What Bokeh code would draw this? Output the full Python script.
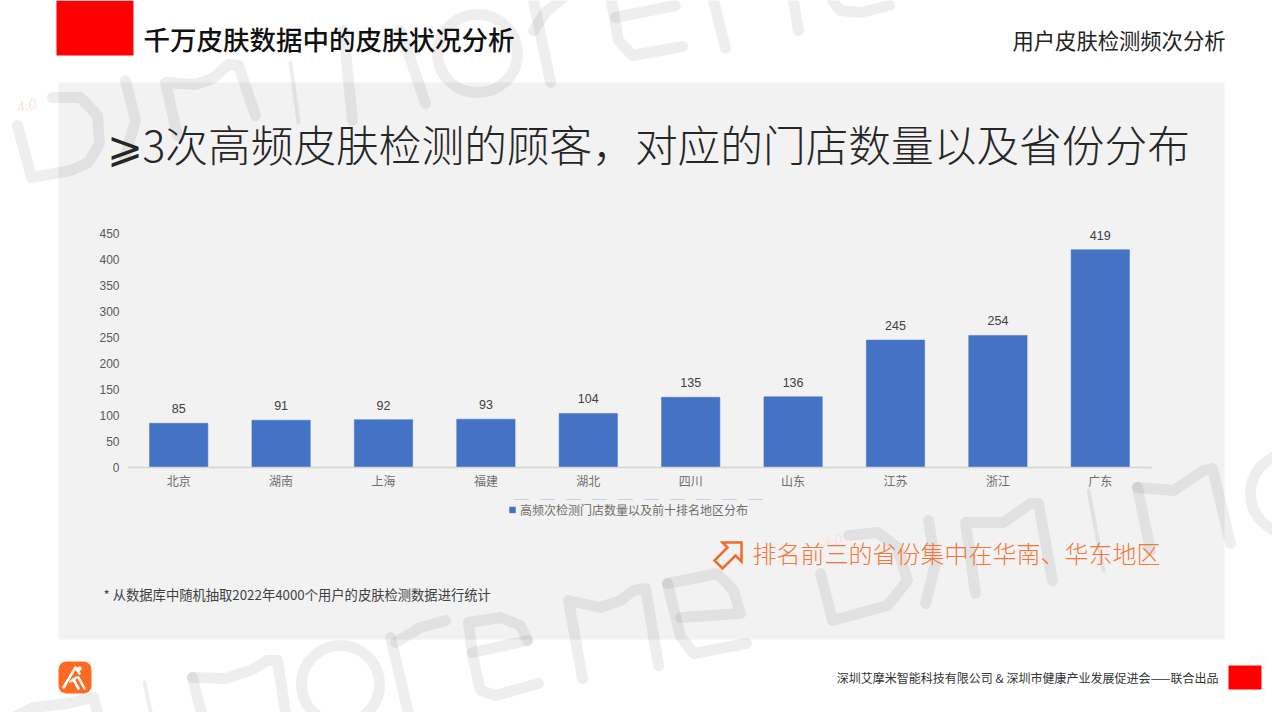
from bokeh.core.properties import value
from bokeh.embed import file_html
from bokeh.models import ColumnDataSource, FactorRange, FixedTicker, Legend, LegendItem, Range1d
from bokeh.plotting import figure
from bokeh.resources import INLINE

# chart data
regions = ["北京", "湖南", "上海", "福建", "湖北", "四川", "山东", "江苏", "浙江", "广东"]
store_counts = [85, 91, 92, 93, 104, 135, 136, 245, 254, 419]
y_ticks = [0, 50, 100, 150, 200, 250, 300, 350, 400, 450]
legend_text = "高频次检测门店数量以及前十排名地区分布"

# slide texts
heading = "千万皮肤数据中的皮肤状况分析"
section = "用户皮肤检测频次分析"
title = "⩾3次高频皮肤检测的顾客，对应的门店数量以及省份分布"
callout = "排名前三的省份集中在华南、华东地区"
footnote = "* 从数据库中随机抽取2022年4000个用户的皮肤检测数据进行统计"
footer = "深圳艾摩米智能科技有限公司 & 深圳市健康产业发展促进会——联合出品"

SANS = "Noto Sans CJK SC"
LIGHT = "Noto Sans CJK SC Light"

# watermark strokes, in slide pixels
wm_thick = [
    # top row
    [(17, 125), (31, 177), (70, 170), (88, 162), (99, 143), (97, 115), (80, 97), (52, 97)],
    [(125, 80), (135, 120), (124, 158)],
    [(177, 135), (165, 82), (195, 84), (212, 78), (228, 64), (238, 65), (255, 115)],
    [(343, 30), (352, 120)],
    [(400, 30), (425, 103)],
    [(550, 82), (533, 0)],
    [(533, 30), (545, 12), (565, -5)],
    [(610, -5), (618, 40), (632, 55), (682, 46)],
    [(615, 17), (675, 5)],
    [(713, 0), (725, 48)],
    [(793, 0), (798, 30)],
    [(832, 0), (840, 10), (860, 12), (889, 5)],
    # bottom row
    [(13, 717), (33, 707), (67, 703), (93, 697), (100, 725)],
    [(192, 677), (204, 725)],
    [(192, 677), (225, 678), (250, 670), (267, 660), (277, 660), (287, 725)],
    [(390, 637), (408, 713)],
    [(395, 642), (420, 627), (445, 620)],
    [(527, 640), (520, 625), (500, 617), (468, 622), (472, 655), (480, 690), (495, 695), (538, 683)],
    [(472, 652), (527, 640)],
    [(582, 678), (568, 600), (600, 607), (620, 600), (633, 590), (645, 588), (658, 665)],
    [(667, 583), (717, 573), (733, 590), (740, 613), (680, 617)],
    [(667, 583), (680, 636), (693, 653), (746, 643)],
    # right row
    [(820, 573), (832, 620), (887, 605), (907, 580), (897, 547), (877, 532), (848, 535)],
    [(928, 520), (935, 563), (925, 603)],
    [(975, 593), (965, 522), (1003, 522), (1030, 503), (1038, 503), (1052, 580)],
    [(1137, 487), (1150, 550)],
    [(1137, 487), (1173, 490), (1203, 470), (1212, 468), (1230, 543)],
]
wm_thin = [[(290, 62), (298, 122)], [(144, 682), (152, 720)], [(1088, 490), (1103, 570)]]
wm_rings = [(477, 53, 80, 78), (340, 684, 78, 78), (1290, 493, 80, 80)]
arrow_icon = [(722, 542), (741, 542), (741, 561), (735, 555), (722, 568), (714, 560), (727, 547)]
logo_strokes = [
    [(63, 687), (75, 667), (79, 673)],
    [(70, 681), (76, 677)],
    [(78, 677), (84, 688)],
    [(73, 679), (78, 688)],
]

# page background: slide furniture drawn in slide pixels
bg = figure(width=1272, height=712, x_range=Range1d(0, 1272), y_range=Range1d(712, 0),
            output_backend="svg", toolbar_location=None, min_border=0)
bg.axis.visible = False
bg.grid.visible = False
bg.outline_line_color = None
bg.background_fill_color = "white"
bg.border_fill_color = "white"

bg.quad(left=[58], right=[1224], top=[82], bottom=[639], fill_color="#f2f2f2", line_color=None)

wm_color = "black"
wm_alpha = 0.065
bg.multi_line([[pt[0] for pt in s] for s in wm_thick], [[pt[1] for pt in s] for s in wm_thick],
              line_color=wm_color, line_alpha=wm_alpha, line_width=11,
              line_cap="round", line_join="round")
bg.multi_line([[pt[0] for pt in s] for s in wm_thin], [[pt[1] for pt in s] for s in wm_thin],
              line_color=wm_color, line_alpha=wm_alpha, line_width=4, line_cap="round")
bg.ellipse(x=[r[0] for r in wm_rings], y=[r[1] for r in wm_rings],
           width=[r[2] for r in wm_rings], height=[r[3] for r in wm_rings],
           fill_color=None, line_color=wm_color, line_alpha=wm_alpha, line_width=11)
bg.text(x=[26, 832], y=[105, 540], text=["4.0", "4.0"], angle=0.23, text_color="#fbe3de",
        text_font=value("Liberation Sans"), text_font_size="14px", text_font_style="italic",
        text_align="center", text_baseline="middle")

# red blocks
bg.quad(left=[56, 1228], right=[133, 1261], top=[0, 665], bottom=[55, 689],
        fill_color="#ff0000", line_color=None)

bg.text(x=[143], y=[38], text=[heading], text_font=value("Noto Sans CJK SC Medium"), text_font_size="26.5px",
        text_color="#111111", text_baseline="middle")
bg.text(x=[1225], y=[39], text=[section], text_font=value(SANS), text_font_size="21.3px",
        text_color="#222222", text_align="right", text_baseline="middle")
bg.text(x=[106], y=[142], text=[title], text_font=value(LIGHT + ", DejaVu Sans Light"), text_font_size="42.7px",
        text_color="#262626", text_baseline="middle")
bg.text(x=[752], y=[552], text=[callout], text_font=value(LIGHT), text_font_size="24px",
        text_color="#f4773a", text_baseline="middle")
bg.text(x=[103], y=[594], text=[footnote], text_font=value(SANS), text_font_size="13.3px",
        text_color="#404040", text_baseline="middle")
bg.text(x=[1218], y=[677], text=[footer], text_font=value(SANS), text_font_size="12px",
        text_color="#333333", text_align="right", text_baseline="middle")

bg.patch([pt[0] for pt in arrow_icon], [pt[1] for pt in arrow_icon], fill_color=None,
         line_color="#f26a2e", line_width=2.5, line_join="miter")

# logo
bg.quad(left=[58], right=[91], top=[661], bottom=[693], fill_color="#ff6a22", line_color=None,
        border_radius=8)
bg.multi_line([[pt[0] for pt in s] for s in logo_strokes], [[pt[1] for pt in s] for s in logo_strokes],
              line_color="white", line_width=2.6, line_cap="round", line_join="round")
bg.scatter(x=[79], y=[668], size=3.5, color="white")

source = ColumnDataSource(data=dict(region=regions, stores=store_counts,
                                    label=[str(v) for v in store_counts]))

# legend lives in its own strip, a legend below the chart gets pushed off the page
leg = figure(width=260, height=20, x_range=FactorRange(factors=regions), y_range=Range1d(-2000, -1000),
             output_backend="svg", toolbar_location=None, min_border=0,
             margin=(-213, 0, 0, 508))
leg.axis.visible = False
leg.grid.visible = False
leg.outline_line_color = None
leg.background_fill_alpha = 0
leg.border_fill_alpha = 0
leg_bars = leg.vbar(x="region", top="stores", width=0.57, source=source, fill_color="#4472c4",
                    line_color=None)
legend = Legend(items=[LegendItem(label=legend_text, renderers=[leg_bars])], location="left",
                background_fill_alpha=0, border_line_color=None, padding=0, margin=0, spacing=0,
                glyph_width=8, glyph_height=8, label_standoff=4, label_text_font=SANS,
                label_text_font_size="12px", label_text_color="#6e6e6e", label_height=14)
leg.add_layout(legend)

# the bar chart itself, laid over the slide as another root
p = figure(width=1072, height=310, frame_width=1024, frame_height=245,
           x_range=FactorRange(factors=regions, range_padding=0),
           y_range=Range1d(0, 471.2), output_backend="svg", toolbar_location=None,
           min_border_left=40, min_border_right=8, min_border_top=0, min_border_bottom=65,
           margin=(-297, 0, 0, 87))
p.background_fill_alpha = 0
p.border_fill_alpha = 0
p.outline_line_color = None
p.grid.visible = False

bars = p.vbar(x="region", top="stores", width=0.57, source=source, fill_color="#4472c4",
              line_color="#4472c4", line_width=0.5)
p.text(x="region", y="stores", text="label", source=source, y_offset=-10, text_align="center",
       text_baseline="bottom", text_color="#404040", text_font=value("Liberation Sans"),
       text_font_size="12.5px")

p.yaxis.ticker = FixedTicker(ticks=y_ticks)
p.yaxis.axis_line_color = None
p.yaxis.major_tick_line_color = None
p.yaxis.minor_tick_line_color = None
p.yaxis.major_label_text_font = "Liberation Sans"
p.yaxis.major_label_text_font_size = "12px"
p.yaxis.major_label_text_color = "#595959"
p.yaxis.major_label_standoff = 2

p.xaxis.axis_line_color = "#d4d4d4"
p.xaxis.axis_line_width = 1.3
p.xaxis.major_tick_line_color = None
p.xaxis.minor_tick_line_color = None
p.xaxis.major_label_text_font = SANS
p.xaxis.major_label_text_font_size = "12px"
p.xaxis.major_label_text_color = "#6e6e6e"
p.xaxis.major_label_standoff = -2

open("out.html", "w").write(file_html([bg, leg, p], INLINE))
